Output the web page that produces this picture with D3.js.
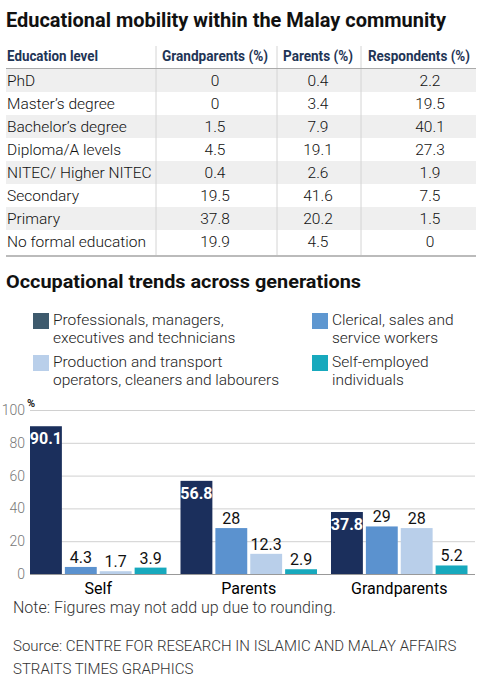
<!DOCTYPE html>
<html>
<head>
<meta charset="utf-8">
<script src="https://cdn.jsdelivr.net/npm/d3@7"></script>
<style>
  body { margin: 0; background: #fff; }
  svg { display: block; }
</style>
</head>
<body>
<svg id="chart" width="480" height="685"></svg>
<script>
// table data
const tableHeaders = ["Education level", "Grandparents (%)", "Parents (%)", "Respondents (%)"];
const eduLevels = ["PhD", "Master\u2019s degree", "Bachelor\u2019s degree", "Diploma/A levels",
  "NITEC/ Higher NITEC", "Secondary", "Primary", "No formal education"];
const grandparentsEdu = ["0", "0", "1.5", "4.5", "0.4", "19.5", "37.8", "19.9"];
const parentsEdu = ["0.4", "3.4", "7.9", "19.1", "2.6", "41.6", "20.2", "4.5"];
const respondentsEdu = ["2.2", "19.5", "40.1", "27.3", "1.9", "7.5", "1.5", "0"];

// bar chart data
const generations = ["Self", "Parents", "Grandparents"];
const occupations = [
  ["Professionals, managers,", "executives and technicians"],
  ["Clerical, sales and", "service workers"],
  ["Production and transport", "operators, cleaners and labourers"],
  ["Self-employed", "individuals"]
];
const professionals = [90.1, 56.8, 37.8];
const clerical = [4.3, 28, 29];
const production = [1.7, 12.3, 28];
const selfEmployed = [3.9, 2.9, 5.2];
const yTicks = [0, 20, 40, 60, 80, 100];

const barColors = ["#1b2f5c", "#5b92cf", "#b9cfea", "#17a9bd"];
const legendColors = ["#3e5a6d", "#5e97d0", "#b9cfea", "#17a9bd"];

const svg = d3.select("#chart");
const font = "Roboto, 'Open Sans', sans-serif";

// ---------- title ----------
svg.append("text")
  .attr("x", 6).attr("y", 27)
  .attr("font-family", font).attr("font-weight", 700)
  .attr("font-size", 20).attr("fill", "#111")
  .attr("textLength", 440).attr("lengthAdjust", "spacingAndGlyphs")
  .text("Educational mobility within the Malay community");

// ---------- table ----------
const rowTop = 69, rowH = 23;
const colSep = [156, 277, 361];
const colCenter = [0, 215, 318, 430];
const headerCenter = [0, 215, 318, 419];
const headerLen = [91, 106, 70, 102];

const rows = eduLevels.map((d, i) => [d, grandparentsEdu[i], parentsEdu[i], respondentsEdu[i]]);

svg.selectAll("rect.rowbg")
  .data(rows)
  .join("rect")
  .attr("class", "rowbg")
  .attr("x", 6).attr("width", 470)
  .attr("y", (d, i) => rowTop + i * rowH)
  .attr("height", rowH)
  .attr("fill", (d, i) => i % 2 === 0 ? "#efefef" : "#fff");

// vertical separators
svg.selectAll("line.colsep")
  .data(colSep)
  .join("line")
  .attr("x1", d => d).attr("x2", d => d)
  .attr("y1", 46).attr("y2", rowTop + rows.length * rowH + 3)
  .attr("stroke", "#d4d4d4").attr("stroke-width", 1);

// header
svg.selectAll("text.hdr")
  .data(tableHeaders)
  .join("text")
  .attr("class", "hdr")
  .attr("x", (d, i) => i === 0 ? 7 : headerCenter[i])
  .attr("y", 61)
  .attr("text-anchor", (d, i) => i === 0 ? "start" : "middle")
  .attr("font-family", font).attr("font-weight", 700)
  .attr("font-size", 14.5).attr("fill", "#1f3556")
  .attr("textLength", (d, i) => headerLen[i])
  .attr("lengthAdjust", "spacingAndGlyphs")
  .text(d => d);

svg.append("line")
  .attr("x1", 6).attr("x2", 476).attr("y1", 68.5).attr("y2", 68.5)
  .attr("stroke", "#aaa").attr("stroke-width", 1);

const rowG = svg.selectAll("g.row")
  .data(rows)
  .join("g")
  .attr("class", "row")
  .attr("transform", (d, i) => `translate(0,${rowTop + i * rowH + 17})`);

rowG.selectAll("text")
  .data(d => d)
  .join("text")
  .attr("x", (d, i) => i === 0 ? 7 : colCenter[i])
  .attr("text-anchor", (d, i) => i === 0 ? "start" : "middle")
  .attr("font-family", font).attr("font-weight", 300)
  .attr("font-size", 15.5).attr("fill", "#111")
  .text(d => d);

svg.append("line")
  .attr("x1", 6).attr("x2", 476)
  .attr("y1", rowTop + rows.length * rowH + 3).attr("y2", rowTop + rows.length * rowH + 3)
  .attr("stroke", "#bbb").attr("stroke-width", 2);

// ---------- second title ----------
svg.append("text")
  .attr("x", 6).attr("y", 288)
  .attr("font-family", font).attr("font-weight", 700)
  .attr("font-size", 19).attr("fill", "#111")
  .attr("textLength", 355).attr("lengthAdjust", "spacingAndGlyphs")
  .text("Occupational trends across generations");

// ---------- legend ----------
const legendPos = [[33, 313], [312, 313], [33, 355], [312, 355]];
const legend = svg.selectAll("g.legend")
  .data(occupations)
  .join("g")
  .attr("class", "legend")
  .attr("transform", (d, i) => `translate(${legendPos[i][0]},${legendPos[i][1]})`);

legend.append("rect")
  .attr("width", 16).attr("height", 16)
  .attr("fill", (d, i) => legendColors[i]);

legend.selectAll("text")
  .data(d => d)
  .join("text")
  .attr("x", 20)
  .attr("y", (d, j) => 12 + j * 17.5)
  .attr("font-family", font).attr("font-weight", 300)
  .attr("font-size", 15.5).attr("fill", "#222")
  .text(d => d);

// ---------- bar chart ----------
const series = [professionals, clerical, production, selfEmployed];

const y = d3.scaleLinear().domain([0, 100]).range([574, 410]);
const x0 = d3.scaleBand().domain(generations).range([30, 467.5]).paddingInner(0.093);
const x1 = d3.scaleBand().domain(d3.range(series.length)).range([0, x0.bandwidth()]).paddingInner(0.086);

// grid
const yAxis = svg.append("g")
  .attr("transform", "translate(30,0)")
  .call(d3.axisLeft(y).tickValues(yTicks).tickSize(-445).tickPadding(5));
yAxis.select(".domain").remove();
yAxis.selectAll(".tick line")
  .attr("stroke", d => d === 0 ? "#999" : "#d0d0d0");
yAxis.selectAll(".tick text")
  .attr("font-family", font).attr("font-weight", 300)
  .attr("font-size", 14).attr("fill", "#777");

svg.append("text")
  .attr("x", 27).attr("y", 407)
  .attr("font-family", font).attr("font-weight", 700)
  .attr("font-size", 11).attr("fill", "#222")
  .text("%");

const groups = svg.selectAll("g.gen")
  .data(generations)
  .join("g")
  .attr("class", "gen")
  .attr("transform", d => `translate(${x0(d)},0)`);

const cells = groups.selectAll("g.cell")
  .data((g, gi) => series.map((s, si) => ({ si, v: s[gi] })))
  .join("g")
  .attr("class", "cell");

cells.append("rect")
  .attr("x", d => x1(d.si))
  .attr("width", x1.bandwidth())
  .attr("y", d => y(d.v))
  .attr("height", d => y(0) - y(d.v))
  .attr("fill", d => barColors[d.si]);

cells.append("text")
  .attr("x", d => x1(d.si) + x1.bandwidth() / 2)
  .attr("y", d => d.si === 0 ? y(d.v) + 18 : y(d.v) - 4)
  .attr("text-anchor", "middle")
  .attr("font-family", font)
  .attr("font-weight", d => d.si === 0 ? 700 : 400)
  .attr("font-size", 16)
  .attr("fill", d => d.si === 0 ? "#fff" : "#111")
  .text(d => d.v);

svg.selectAll("text.gen-label")
  .data(generations)
  .join("text")
  .attr("class", "gen-label")
  .attr("x", d => x0(d) + x0.bandwidth() / 2)
  .attr("y", 594)
  .attr("text-anchor", "middle")
  .attr("font-family", font).attr("font-weight", 400)
  .attr("font-size", 16).attr("fill", "#000")
  .text(d => d);

// ---------- notes ----------
const notes = [
  ["Note: Figures may not add up due to rounding.", 613, 16],
  ["Source: CENTRE FOR RESEARCH IN ISLAMIC AND MALAY AFFAIRS", 651, 15],
  ["STRAITS TIMES GRAPHICS", 674, 15]
];
svg.selectAll("text.note")
  .data(notes)
  .join("text")
  .attr("class", "note")
  .attr("x", 13).attr("y", d => d[1])
  .attr("font-family", font).attr("font-weight", 300)
  .attr("font-size", d => d[2]).attr("fill", "#333")
  .text(d => d[0]);
</script>
</body>
</html>
